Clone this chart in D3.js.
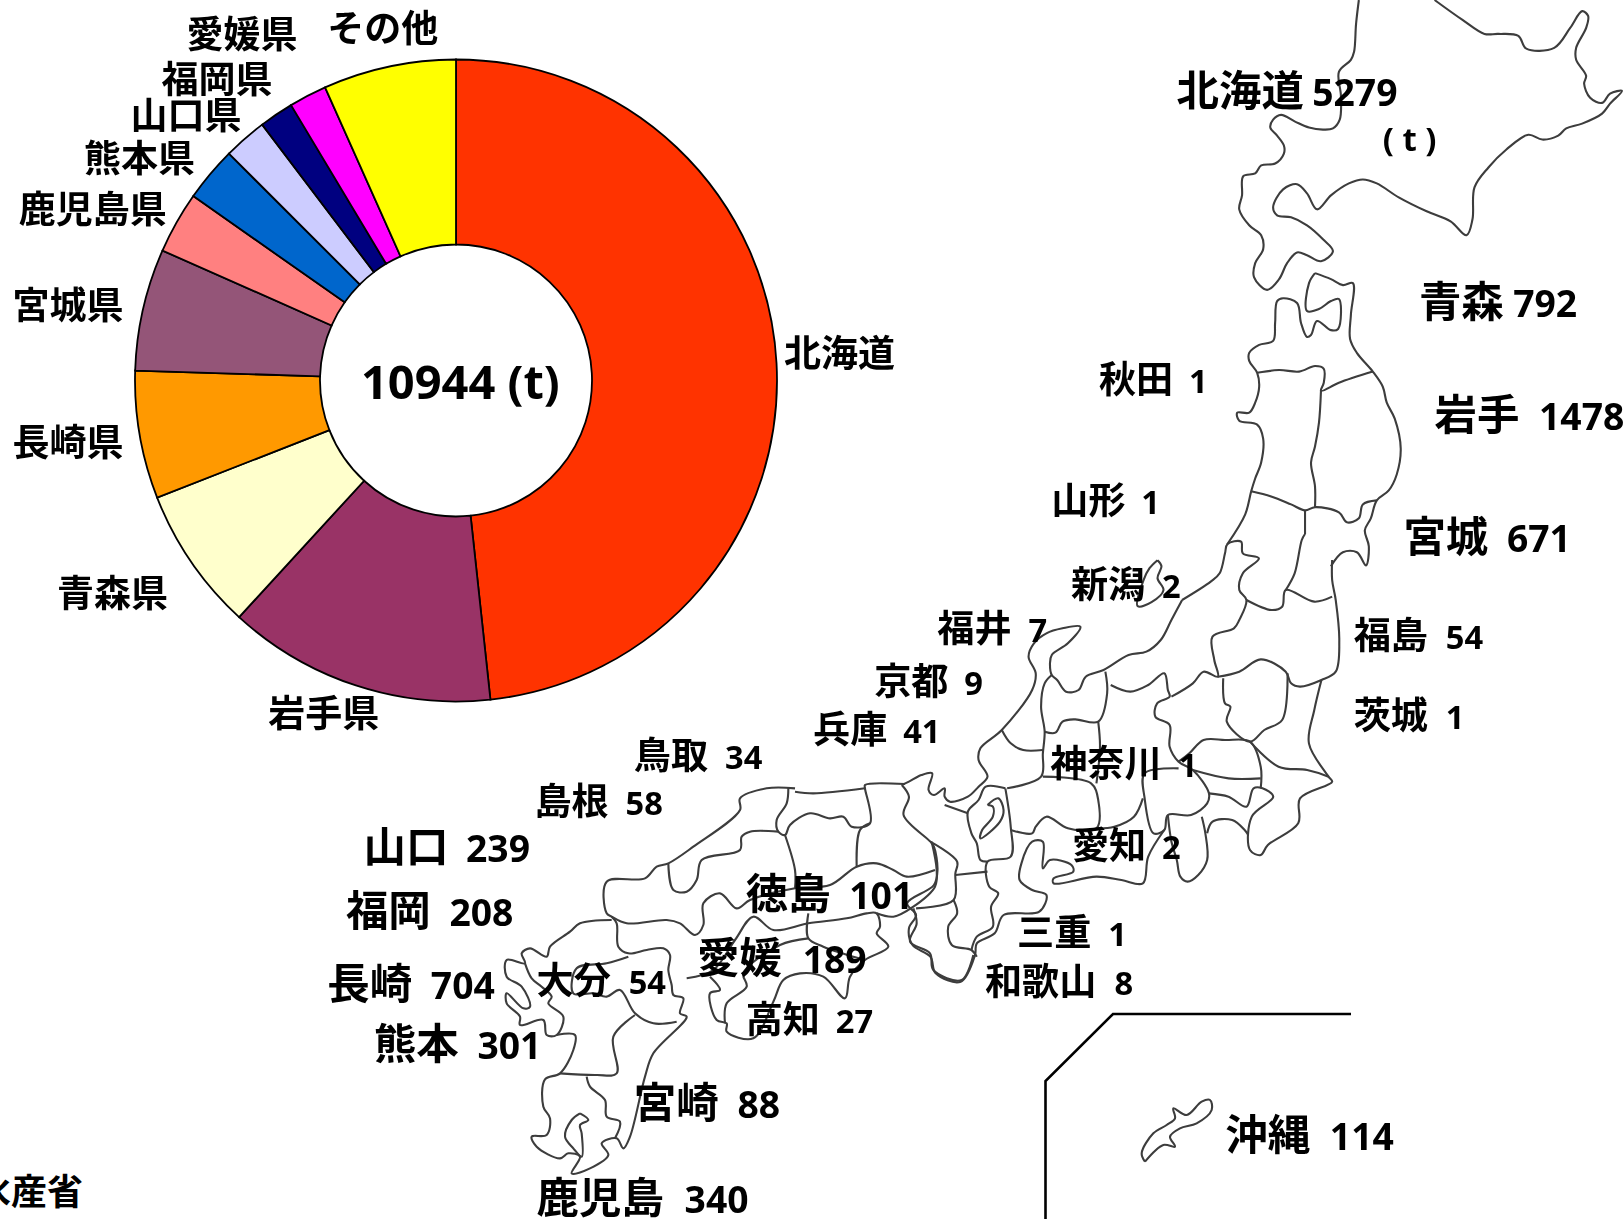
<!DOCTYPE html>
<html lang="ja"><head><meta charset="utf-8">
<script src="https://cdn.jsdelivr.net/npm/d3@7"></script>
<style>
html,body{margin:0;padding:0;background:#fff;overflow:hidden}
svg{display:block}
text{fill:#000}
.jp{font-family:"Noto Sans CJK JP","Noto Sans",sans-serif;font-weight:700}
.num{font-family:"Open Sans","Noto Sans",sans-serif;font-weight:700}
</style></head><body>
<script>
// ---------- data ----------
const pieNames = ["北海道","岩手県","青森県","長崎県","宮城県","鹿児島県","熊本県","山口県","愛媛県","福岡県","その他"];
const pieValues = [5279,1478,792,704,671,340,301,239,189,208,731];
const totalLabel = "10944 (t)";
const prefNames = ["北海道","青森","秋田","岩手","山形","宮城","新潟","福島","福井","京都","茨城","兵庫","鳥取","神奈川","島根","山口","愛知","徳島","福岡","三重","愛媛","和歌山","大分","長崎","高知","熊本","宮崎","沖縄","鹿児島"];
const prefValues = [5279,792,1,1478,1,671,2,54,7,9,1,41,34,1,58,239,2,101,208,1,189,8,54,704,27,301,88,114,340];

// traced map outlines, in the units of three tracing sheets
const sheetNorth = [
 [[900,0],[893,60],[888,130],[880,150],[850,180],[855,240],[852,300],[835,322],[810,325],[775,320],[740,305],[705,288],[685,300],[678,320],[695,340],[712,365],[712,385],[690,410],[655,415],[640,435],[610,442],[607,490],[600,525],[625,565],[655,590],[660,625],[640,660],[637,695],[670,727],[700,700],[720,660],[745,633],[770,640],[805,655],[835,630],[810,600],[770,565],[730,545],[695,540],[685,520],[710,475],[745,462],[770,485],[795,525],[830,490],[875,460],[910,450],[945,460],[1000,495],[1070,530],[1130,555],[1170,590],[1185,550],[1190,470],[1225,420],[1270,375],[1325,338],[1360,350],[1400,340],[1420,322],[1460,310],[1510,285],[1530,260],[1560,228],[1530,235],[1510,258],[1480,245],[1465,210],[1470,190],[1445,150],[1445,120],[1470,70],[1475,40],[1460,28],[1430,70],[1390,120],[1320,122],[1300,90],[1250,85],[1215,85],[1160,50],[1090,0]],
 [[790,685],[775,710],[770,780],[800,775],[830,755],[850,750],[848,825],[830,828],[795,805],[780,840],[770,845],[755,810],[745,760],[710,748],[695,755],[690,810],[685,855],[650,865],[625,885],[625,905],[645,935],[650,970],[640,1010],[625,1035],[595,1035],[600,1055],[645,1065],[660,1100],[655,1160],[640,1200],[630,1232],[615,1290],[570,1365]],
 [[645,935],[700,928],[750,932],[790,918],[812,925],[812,960],[805,980],[850,960],[935,932]],
 [[790,685],[830,700],[860,715],[885,710],[880,790],[878,850],[895,885],[935,932],[960,970],[970,1010],[990,1050],[1005,1125],[995,1190],[975,1230],[945,1255],[930,1300],[915,1330],[925,1370],[918,1418],[895,1385],[860,1385],[830,1420]],
 [[945,1255],[910,1265],[900,1300],[870,1310],[850,1285],[790,1272],[765,1280],[730,1265],[680,1245],[630,1232]],
 [[805,980],[800,1060],[790,1120],[780,1160],[790,1220],[790,1272]],
 [[765,1280],[765,1340]],
 [[395,1405],[375,1425],[360,1455],[345,1520],[380,1510],[410,1480],[395,1450],[405,1420],[395,1405]]
];
const sheetCentral = [
 [[1070,180],[1040,240],[1010,300],[970,335],[920,345],[850,390],[800,410],[780,450],[745,455],[720,420],[705,405],[700,370],[705,345],[750,310],[785,260],[735,265],[690,280],[655,310],[640,350],[660,400],[650,450],[565,570],[505,625],[500,660],[525,710],[500,740],[470,770],[420,785],[405,770],[405,745],[375,765],[360,750],[370,700],[340,705],[305,725],[285,735]],
 [[855,395],[860,460],[835,545],[770,538],[735,545],[715,578],[685,575]],
 [[705,405],[685,430],[675,500],[685,575],[680,640],[675,710],[580,745]],
 [[565,570],[590,610],[625,630],[680,630]],
 [[870,435],[925,455],[975,435],[1020,400],[1030,450],[1035,470],[1000,490],[995,530],[1035,555],[1035,620],[1060,665],[1100,690],[1145,760],[1140,790],[1095,825],[1030,825],[1020,870],[990,880],[965,775],[965,700],[1060,685]],
 [[1070,180],[1150,125],[1175,100],[1190,40],[1197,12],[1235,5],[1240,40],[1285,55],[1240,100],[1230,150],[1250,180],[1230,240],[1215,265],[1155,290],[1160,360],[1170,410],[1130,395],[1100,430],[1040,470]],
 [[1170,410],[1230,395],[1290,358],[1360,395],[1375,430],[1400,440],[1460,420],[1500,395],[1510,300],[1500,180],[1490,120],[1490,60]],
 [[1250,180],[1320,210],[1350,200],[1360,150],[1440,185],[1490,170]],
 [[1360,150],[1385,100],[1405,0],[1414,-18]],
 [[1185,415],[1190,490],[1205,500],[1195,545],[1260,605],[1300,570],[1350,540],[1365,400]],
 [[1460,420],[1440,510],[1425,610],[1480,710],[1490,725],[1400,775],[1395,850],[1310,915],[1290,945],[1260,930],[1265,830],[1325,770],[1295,745],[1270,745],[1250,800],[1200,770],[1145,760]],
 [[1060,665],[1090,640],[1130,600],[1190,600],[1260,605],[1290,680],[1290,745]],
 [[1100,690],[1200,715],[1290,715]],
 [[1260,605],[1340,680],[1420,690],[1480,710]],
 [[1125,830],[1135,880],[1140,960],[1115,1005],[1085,1025],[1065,1010],[1055,960],[1040,905],[1030,825]],
 [[1140,880],[1155,845],[1210,840],[1245,870],[1255,885]],
 [[1020,870],[975,950],[960,1030],[900,1020],[830,1010],[710,1030],[710,1015],[765,995],[760,975],[700,960],[680,985],[680,905],[650,905],[620,970],[615,1020],[650,1050],[690,1065],[670,1115],[570,1125],[545,1180],[495,1210],[490,1245],[450,1325],[380,1300],[365,1250],[315,1215],[305,1165],[325,1125],[300,1090],[375,1035],[385,990],[375,920],[365,905],[290,825],[305,770],[285,735]],
 [[365,905],[440,965],[435,1000],[430,1080],[325,1105]],
 [[430,1080],[440,1120],[415,1160],[425,1215],[480,1230],[495,1250]],
 [[435,1005],[525,995]],
 [[575,745],[590,860],[590,950],[525,965],[530,1040],[555,1060],[535,1100],[540,1160],[495,1190],[480,1230]],
 [[590,870],[650,880],[660,860],[690,830],[750,865],[830,865],[835,780],[815,730],[680,710]],
 [[835,545],[840,620],[830,730]],
 [[835,865],[880,860],[935,830],[960,775]],
 [[575,745],[520,740],[500,780],[470,815],[480,880],[495,910],[505,960],[525,965]],
 [[405,795],[470,820]],
 [[525,795],[540,800],[540,830],[510,870],[505,895],[560,845],[570,810],[555,775],[525,795]]
];
const sheetWest = [
 [[945,85],[860,85],[780,115],[780,150],[640,260],[565,310],[530,320],[495,355],[380,365],[380,460],[395,470],[440,490],[560,480],[600,490],[645,525],[670,495],[670,430],[720,400],[770,445],[810,420],[945,385],[1050,375],[1130,320],[1190,310],[1240,330],[1280,350],[1365,330]],
 [[925,85],[920,130],[890,180],[895,215],[915,225],[930,195],[990,160],[1050,175],[1090,170],[1115,200],[1170,190],[1155,85],[1155,75],[1275,72]],
 [[945,95],[1000,100],[1155,85]],
 [[565,310],[580,390],[620,395],[650,360],[665,300],[780,270],[785,230],[810,215],[895,215]],
 [[1170,190],[1140,210],[1130,320]],
 [[915,225],[945,330],[945,385]],
 [[620,655],[700,630],[765,540],[820,470],[880,510],[985,490],[1100,475],[1160,460],[1190,460],[1200,500],[1190,520],[1225,560],[1155,600],[1110,650],[1095,715],[1030,650],[960,640],[910,660],[880,725],[820,835],[740,815],[740,790],[710,780],[690,700],[720,690],[690,650]],
 [[985,460],[985,535],[1030,560],[1155,600]],
 [[985,535],[900,555],[790,640],[800,680],[740,730],[735,790]],
 [[1190,460],[1240,470],[1300,440],[1365,380],[1370,330],[1355,245]],
 [[1300,445],[1310,490],[1290,545],[1350,580],[1360,630],[1445,660],[1480,585]],
 [[395,480],[300,490],[270,515],[210,560],[200,590],[150,565],[125,580],[135,610],[80,600],[80,650],[125,680],[150,740],[130,745],[80,700],[80,730],[120,770],[120,795],[190,780],[200,825],[230,825],[250,770],[205,730],[215,710],[185,680],[155,655],[135,610]],
 [[230,825],[285,825],[280,870],[240,940],[195,958],[190,1040],[210,1075],[200,1125],[155,1130],[170,1160],[240,1195],[265,1180],[300,1190],[275,1240],[330,1225],[385,1185],[365,1150],[410,1135],[430,1165],[450,1130],[495,950],[520,880],[620,770],[600,760],[610,715],[580,705],[575,675],[565,630],[570,585],[550,565],[500,570],[445,580],[415,560],[410,490],[395,470]],
 [[445,590],[380,610],[290,625],[280,700],[340,700],[380,710],[420,690],[465,760],[520,790],[590,785]],
 [[465,765],[400,830],[410,940],[350,945],[240,940]],
 [[320,950],[330,980],[375,1020],[380,1070],[420,1085],[405,1135]],
 [[300,1060],[275,1080],[255,1130],[280,1165],[305,1190],[305,1120],[300,1095],[325,1080],[300,1060]]
];
const sheetOkinawa = [
 [[375,515],[365,490],[400,430],[440,405],[465,385],[460,355],[500,375],[545,335],[570,330],[575,360],[530,400],[480,415],[450,440],[465,470],[430,465],[375,515]]
];

// ---------- layout ----------
const W = 1624, H = 1219, U = W / 1568;
const u = d3.scaleLinear().domain([0,1568]).range([0,W]);
const svg = d3.select("body").append("svg").attr("width",W).attr("height",H);
const defs = svg.append("defs");
defs.append("filter").attr("id","soft").attr("x","-2%").attr("y","-2%").attr("width","104%").attr("height","104%")
  .append("feGaussianBlur").attr("stdDeviation",0.45);

// map
const sheets = [
 {paths:sheetNorth,  kx:2.508,ky:2.508,ox:1000,oy:0},
 {paths:sheetCentral,kx:2.8,  ky:3,    ox:800, oy:540},
 {paths:sheetWest,   kx:3,    ky:3,    ox:480, oy:760},
 {paths:sheetOkinawa,kx:3,    ky:3,    ox:1020,oy:990}
];
const map = svg.append("g").attr("fill","none").attr("stroke","#3c3c3c").attr("stroke-width",2.1)
  .attr("stroke-linejoin","round").attr("filter","url(#soft)");
sheets.forEach(s=>{
  const x = d3.scaleLinear().domain([0,1]).range([s.ox,s.ox+1/s.kx]);
  const y = d3.scaleLinear().domain([0,1]).range([s.oy,s.oy+1/s.ky]);
  const line = d3.line().x(d=>x(d[0])).y(d=>y(d[1])).curve(d3.curveCatmullRom.alpha(0.5));
  map.selectAll(null).data(s.paths).join("path").attr("d",line);
});

// Okinawa inset frame
const frameTrace = [[1045.5,1219],[1045.5,1081],[1113,1014],[1351,1014]];
svg.append("path").attr("d",d3.line()(frameTrace)).attr("fill","none").attr("stroke","#000").attr("stroke-width",2.6);

// donut
const pieColors = ["#FF3300","#993366","#FFFFCC","#FF9900","#945578","#FF8080","#0066CC","#CCCCFF","#000080","#FF00FF","#FFFF00"];
const arcs = d3.pie().sort(null).value(d=>d)(pieValues);
const arc = d3.arc().innerRadius(136).outerRadius(321);
const donut = svg.append("g").attr("transform","translate(456,380.5)");
donut.selectAll("path").data(arcs).join("path").attr("d",arc)
  .attr("fill",(d,i)=>pieColors[i]).attr("stroke","#000").attr("stroke-width",1.8);

const texts = svg.append("g").attr("filter","url(#soft)");
// donut labels: [left, baseline] in 1568-wide sheet units
const pieLabelPos = [[757,354],[259,702],[55,586],[12,440],[12,308],[18,215],[81,166],[126,125],[180,46],[156,90],[316,41]];
texts.selectAll(null).data(pieNames).join("text").attr("class","jp")
  .attr("x",(d,i)=>u(pieLabelPos[i][0])).attr("y",(d,i)=>u(pieLabelPos[i][1]))
  .attr("font-size",37).text(d=>d);

texts.append("text").attr("class","num").attr("x",u(444.5)).attr("y",u(385.5)).attr("text-anchor","middle")
  .attr("font-size",47).text(totalLabel);

// prefecture labels: [name left, value left, baseline, char size] in sheet units
const prefPos = [[1136,1267,102,40],[1370,1461,306,40],[1061,1148,379,35],[1385,1486,415,40],[1015,1102,496,35],[1355,1455,533,40],[1034,1122,577,35],[1307,1396,627,35],[905,993,620,35],[844,931,671,35],[1307,1396,704,35],[785,872,717,35],[612,700,742,35],[1014,1138,750,35],[516,604,787,35],[351,450,832,40],[1035,1122,829,35],[720,820,878,40],[334,434,894,40],[982,1070,913,35],[673,775,939,40],[951,1076,961,35],[518,607,960,35],[316,416,965,40],[720,807,997,35],[361,461,1022,40],[612,712,1079,40],[1183,1284,1110,40],[518,661,1171,40]];
texts.selectAll(null).data(prefNames).join("text").attr("class","jp")
  .attr("x",(d,i)=>u(prefPos[i][0])).attr("y",(d,i)=>u(prefPos[i][2]))
  .attr("font-size",(d,i)=>u(prefPos[i][3])*1.025).text(d=>d);
texts.selectAll(null).data(prefValues).join("text").attr("class","num")
  .attr("x",(d,i)=>u(prefPos[i][1])).attr("y",(d,i)=>u(prefPos[i][2]))
  .attr("font-size",(d,i)=>u(prefPos[i][3])*0.9).text(d=>d);

texts.append("text").attr("class","num").attr("x",u(1335)).attr("y",u(146)).attr("font-size",33).text("( t )");

// source note, clipped by the page edge as in the reference
svg.append("text").attr("class","jp").attr("x",-97).attr("y",1205).attr("font-size",36).text("農林水産省");
svg.append("text").attr("class","jp").attr("x",-10).attr("y",1253).attr("font-size",35).text("漁業・養殖業");
</script>
</body></html>
